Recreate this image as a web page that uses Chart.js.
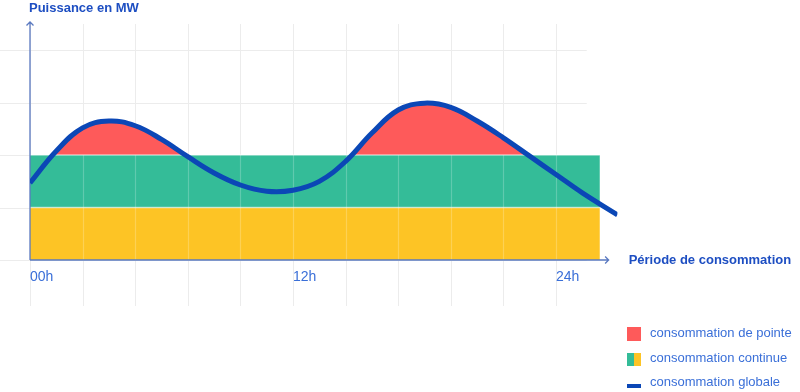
<!DOCTYPE html>
<html>
<head>
<meta charset="utf-8">
<script src="https://cdn.jsdelivr.net/npm/chart.js"></script>
<style>
  html, body { margin: 0; padding: 0; background: #fff; }
  #wrap { width: 800px; height: 392px; }
</style>
</head>
<body>
<div id="wrap"><canvas id="chart"></canvas></div>
<script>
// consommation globale (heures / puissance)
let hours = [0, 1.2, 2.4, 3.6, 4.8, 6.0, 7.2, 8.4, 9.6, 10.8, 12.0, 13.2, 14.4, 15.6, 16.8, 18.0, 19.2, 20.4, 21.6, 22.8, 24.0, 25.2, 26.8];
let globale = [1.47, 2.08, 2.52, 2.65, 2.56, 2.30, 1.97, 1.66, 1.43, 1.31, 1.33, 1.50, 1.88, 2.42, 2.86, 2.99, 2.91, 2.65, 2.33, 1.98, 1.63, 1.28, 0.86];
// consommation continue : deux bandes
let bandHours = [0, 26];
let continueJaune = [1, 1];
let continueVert = [2, 2];
let seuilPointe = 2;
// grille et graduations
let gridHours = [0, 2.4, 4.8, 7.2, 9.6, 12, 14.4, 16.8, 19.2, 21.6, 24];
let gridLevels = [0, 1, 2, 3, 4];
let tickHours = [0, 12, 24];
let tickLabels = ['00h', '12h', '24h'];
let legendLabels = ['consommation de pointe', 'consommation continue', 'consommation globale'];

const RED = '#fe5a5a', GREEN = '#34bc98', YELLOW = '#fdc425', BLUE = '#0b47b6';
const AXIS = '#5a79c0', DARKTXT = '#1d4ec2', LIGHTTXT = '#3a6fd8';
const FONT = '"Liberation Sans", Arial, sans-serif';

const pts = (xs, ys) => xs.map((h, i) => ({x: h, y: ys[i]}));

const deco = {
  id: 'deco',
  beforeDraw(chart) {
    const {ctx, chartArea, scales: {x, y}} = chart;
    ctx.save();
    ctx.strokeStyle = '#ececec';
    ctx.lineWidth = 1;
    gridHours.forEach(h => {
      const px = Math.round(x.getPixelForValue(h)) + 0.5;
      ctx.beginPath();
      ctx.moveTo(px, chartArea.top);
      ctx.lineTo(px, y.getPixelForValue(0) + 46);
      ctx.stroke();
    });
    gridLevels.forEach(v => {
      const py = Math.round(y.getPixelForValue(v)) + 0.5;
      ctx.beginPath();
      ctx.moveTo(0, py);
      ctx.lineTo(x.getPixelForValue(25.4), py);
      ctx.stroke();
    });
    ctx.restore();
  },
  beforeDatasetsDraw(chart) {
    // runs after the filler: light lines over the bands, then the axes
    const {ctx, chartArea, scales: {x, y}} = chart;
    const x0 = x.getPixelForValue(0), y0 = y.getPixelForValue(0);
    ctx.save();
    ctx.strokeStyle = 'rgba(255,255,255,0.22)';
    ctx.lineWidth = 1.2;
    gridHours.slice(1).forEach(h => {
      const px = Math.round(x.getPixelForValue(h)) + 0.5;
      ctx.beginPath();
      ctx.moveTo(px, y0);
      ctx.lineTo(px, y.getPixelForValue(seuilPointe));
      ctx.stroke();
    });
    ctx.strokeStyle = 'rgba(255,255,255,0.55)';
    ctx.lineWidth = 1.5;
    [continueJaune[0], continueVert[0]].forEach(v => {
      const py = y.getPixelForValue(v);
      ctx.beginPath();
      ctx.moveTo(x0, py);
      ctx.lineTo(x.getPixelForValue(bandHours[1]), py);
      ctx.stroke();
    });

    ctx.strokeStyle = AXIS;
    ctx.lineWidth = 1.3;
    const top = chartArea.top - 2;
    const xr = x.getPixelForValue(26.4);
    ctx.beginPath();
    ctx.moveTo(x0, y0);
    ctx.lineTo(x0, top);
    ctx.moveTo(x0 - 3.5, top + 3.5);
    ctx.lineTo(x0, top);
    ctx.lineTo(x0 + 3.5, top + 3.5);
    ctx.moveTo(x0, y0);
    ctx.lineTo(xr, y0);
    ctx.moveTo(xr - 3.5, y0 - 3.5);
    ctx.lineTo(xr, y0);
    ctx.lineTo(xr - 3.5, y0 + 3.5);
    ctx.stroke();
    ctx.restore();
  },
  afterDraw(chart) {
    const {ctx, scales: {x, y}} = chart;
    const x0 = x.getPixelForValue(0), y0 = y.getPixelForValue(0);
    ctx.save();
    ctx.textBaseline = 'middle';
    ctx.textAlign = 'left';
    ctx.fillStyle = DARKTXT;
    ctx.font = 'bold 13px ' + FONT;
    ctx.fillText('Puissance en MW', x0 - 1, 8);
    ctx.fillText('Période de consommation', x.getPixelForValue(26.4) + 20, y0);

    // legend
    const lx = 627, rows = [333, 358, 382];
    ctx.fillStyle = RED;
    ctx.fillRect(lx, rows[0] - 6, 14, 14);
    ctx.fillStyle = GREEN;
    ctx.fillRect(lx, rows[1] - 5, 7, 13);
    ctx.fillStyle = YELLOW;
    ctx.fillRect(lx + 7, rows[1] - 5, 7, 13);
    ctx.fillStyle = BLUE;
    ctx.fillRect(lx, rows[2] + 2, 14, 4);
    ctx.font = '13px ' + FONT;
    ctx.fillStyle = LIGHTTXT;
    legendLabels.forEach((t, i) => ctx.fillText(t, lx + 23, rows[i]));
    ctx.restore();
  }
};

new Chart(document.getElementById('chart'), {
  type: 'line',
  data: {
    datasets: [{
      label: legendLabels[2],
      data: pts(hours, globale),
      borderColor: BLUE,
      borderWidth: 5,
      tension: 0.4,
      pointRadius: 0,
      fill: {target: {value: seuilPointe}, above: RED, below: 'rgba(0,0,0,0)'},
      order: 0
    }, {
      label: 'continue (vert)',
      data: pts(bandHours, continueVert),
      borderWidth: 0,
      pointRadius: 0,
      backgroundColor: GREEN,
      fill: {target: {value: continueJaune[0]}},
      order: 1
    }, {
      label: 'continue (jaune)',
      data: pts(bandHours, continueJaune),
      borderWidth: 0,
      pointRadius: 0,
      backgroundColor: YELLOW,
      fill: 'origin',
      order: 2
    }]
  },
  options: {
    responsive: true,
    maintainAspectRatio: false,
    animation: false,
    layout: { padding: {left: 30, right: 182.6, top: 24, bottom: 92} },
    plugins: {
      legend: { display: false },
      tooltip: { enabled: false },
      filler: { drawTime: 'beforeDatasetsDraw' }
    },
    scales: {
      x: {
        type: 'linear',
        min: 0,
        max: 26.8,
        grid: { display: false, drawTicks: false },
        border: { display: false },
        afterBuildTicks: s => { s.ticks = tickHours.map(v => ({value: v})); },
        afterFit: s => { s.height = 40; },
        ticks: {
          align: 'start',
          autoSkip: false,
          maxRotation: 0,
          padding: 9,
          color: LIGHTTXT,
          font: { family: FONT, size: 14 },
          callback: (v, i) => tickLabels[i]
        }
      },
      y: {
        display: false,
        min: 0,
        max: 4.5
      }
    }
  },
  plugins: [deco]
});
</script>
</body>
</html>
